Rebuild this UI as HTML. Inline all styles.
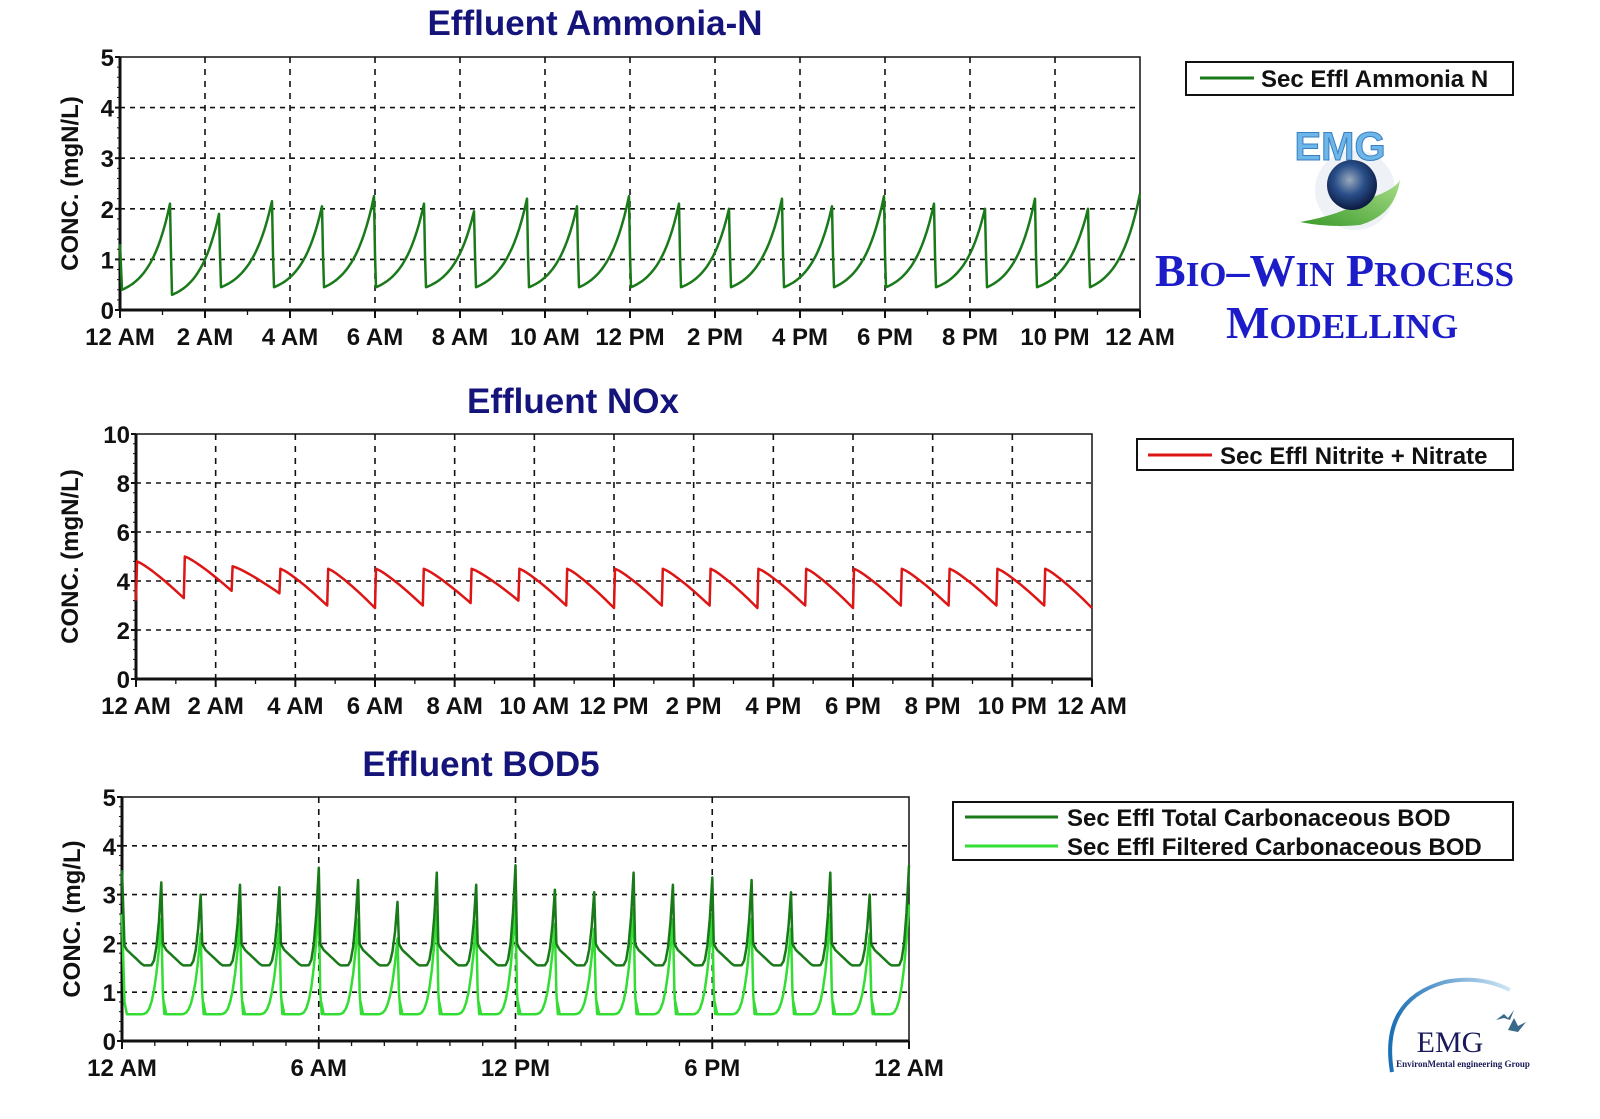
<!DOCTYPE html>
<html><head><meta charset="utf-8"><style>
html,body{margin:0;padding:0;background:#fff;}
svg{display:block;}
text{font-family:"Liberation Sans",Arial,sans-serif;}
.t{font-weight:bold;font-size:35px;fill:#14147a;text-anchor:middle;}
.ax{font-weight:bold;font-size:24px;fill:#111;}
.lg{font-weight:bold;font-size:24px;fill:#111;}
.bw{font-family:"Liberation Serif",serif;font-weight:bold;fill:#1c1cc8;}
</style></head><body>
<svg id="s" width="1600" height="1119" viewBox="0 0 1600 1119" xmlns="http://www.w3.org/2000/svg">
<defs>
<radialGradient id="gl" cx="0.45" cy="0.4" r="0.6"><stop offset="0" stop-color="#9ab"/><stop offset="0.5" stop-color="#2a4f8a"/><stop offset="1" stop-color="#0a1a40"/></radialGradient>
<linearGradient id="lf" x1="0" y1="1" x2="1" y2="0"><stop offset="0" stop-color="#3a9a2a"/><stop offset="1" stop-color="#a8dd88"/></linearGradient>
<linearGradient id="arc" x1="0" y1="0" x2="1" y2="0"><stop offset="0" stop-color="#1a6fb5"/><stop offset="1" stop-color="#cfe6f5"/></linearGradient>
</defs>
<text class="t" x="595" y="35">Effluent Ammonia-N</text>
<text class="t" x="573" y="413">Effluent NOx</text>
<text class="t" x="481" y="776">Effluent BOD5</text>
<g id="g"></g>
<rect x="1186" y="62" width="327" height="33" fill="#fff" stroke="#111" stroke-width="2"/>
<line x1="1200" y1="78" x2="1254" y2="78" stroke="#1a7a1a" stroke-width="3"/>
<text class="lg" x="1261" y="87">Sec Effl Ammonia N</text>
<rect x="1137" y="439" width="376" height="31" fill="#fff" stroke="#111" stroke-width="2"/>
<line x1="1148" y1="455" x2="1212" y2="455" stroke="#dd1515" stroke-width="3"/>
<text class="lg" x="1220" y="464">Sec Effl Nitrite + Nitrate</text>
<rect x="953" y="802" width="560" height="58" fill="#fff" stroke="#111" stroke-width="2"/>
<line x1="965" y1="817" x2="1058" y2="817" stroke="#1a7a1a" stroke-width="3"/>
<line x1="965" y1="846" x2="1058" y2="846" stroke="#33dd33" stroke-width="3"/>
<text class="lg" x="1067" y="826">Sec Effl Total Carbonaceous BOD</text>
<text class="lg" x="1067" y="855">Sec Effl Filtered Carbonaceous BOD</text>
<circle cx="1355" cy="190" r="40" fill="#eef2f6"/>
<text x="1340" y="160" text-anchor="middle" font-size="40" font-weight="bold" fill="#6cb6ea" stroke="#3a7fbf" stroke-width="1" style="font-family:'Liberation Sans',sans-serif">EMG</text>
<path d="M1300,222 Q1340,215 1365,200 Q1395,190 1400,180 Q1395,215 1360,225 Q1330,228 1300,222Z" fill="url(#lf)"/>
<circle cx="1352" cy="185" r="25" fill="url(#gl)"/>
<text class="bw" x="1155" y="286" font-size="46">B<tspan font-size="35">IO</tspan>–W<tspan font-size="35">IN</tspan>  P<tspan font-size="35">ROCESS</tspan></text>
<text class="bw" x="1226" y="338" font-size="46">M<tspan font-size="35">ODELLING</tspan></text>
<path d="M1392,1072 Q1380,1000 1445,982 Q1480,975 1510,990" fill="none" stroke="url(#arc)" stroke-width="4"/>
<text x="1450" y="1052" text-anchor="middle" font-size="30" fill="#1a1a5a" style="font-family:'Liberation Serif',serif">EMG</text>
<text x="1463" y="1067" text-anchor="middle" font-size="9" font-weight="bold" fill="#1a1a5a" style="font-family:'Liberation Serif',serif">EnvironMental engineering Group</text>
<path d="M1496,1020 l8,-6 l4,4 l6,-8 l-4,10 l-6,-2z M1508,1030 l6,-12 l4,8 l8,-4 l-8,10z" fill="#3a6a8a"/>
</svg>
<script>
var g=document.getElementById('g'),h='';
function chart(x0,x1,y0,y1,ymax,ystep,xl,vlines,ylab,ylx){
  var s='';
  for(var v=ystep;v<ymax;v+=ystep){var y=y1-(y1-y0)*v/ymax;s+='<line x1="'+x0+'" x2="'+x1+'" y1="'+y+'" y2="'+y+'" stroke="#111" stroke-width="1.6" stroke-dasharray="5,5"/>';}
  for(var i=1;i<vlines;i++){var x=x0+(x1-x0)*i/vlines;s+='<line x1="'+x+'" x2="'+x+'" y1="'+y0+'" y2="'+y1+'" stroke="#111" stroke-width="1.6" stroke-dasharray="6,6"/>';}
  s+='<rect x="'+x0+'" y="'+y0+'" width="'+(x1-x0)+'" height="'+(y1-y0)+'" fill="none" stroke="#111" stroke-width="1.5"/>';
  s+='<line x1="'+x0+'" y1="'+y0+'" x2="'+x0+'" y2="'+y1+'" stroke="#111" stroke-width="3"/><line x1="'+x0+'" y1="'+y1+'" x2="'+x1+'" y2="'+y1+'" stroke="#111" stroke-width="3"/>';
  for(var v=0;v<=ymax;v+=ystep){var y=y1-(y1-y0)*v/ymax;s+='<text class="ax" x="'+(x0-6)+'" y="'+(y+9)+'" text-anchor="end">'+v+'</text><line x1="'+(x0-5)+'" x2="'+x0+'" y1="'+y+'" y2="'+y+'" stroke="#111" stroke-width="2"/>';}
  for(var v=0;v<ymax;v+=ystep/5){var y=y1-(y1-y0)*v/ymax;s+='<line x1="'+(x0-3)+'" x2="'+x0+'" y1="'+y+'" y2="'+y+'" stroke="#111" stroke-width="1"/>';}
  for(var i=0;i<xl.length;i++){var x=x0+(x1-x0)*i/(xl.length-1);s+='<text class="ax" x="'+x+'" y="'+(y1+35)+'" text-anchor="middle">'+xl[i]+'</text><line x1="'+x+'" x2="'+x+'" y1="'+y1+'" y2="'+(y1+8)+'" stroke="#111" stroke-width="2"/>';}
  var nt=(xl.length-1)*(xl.length>6?2:6);
  for(var i=0;i<=nt;i++){var x=x0+(x1-x0)*i/nt;s+='<line x1="'+x+'" x2="'+x+'" y1="'+y1+'" y2="'+(y1+5)+'" stroke="#111" stroke-width="1.3"/>';}
  var cy=(y0+y1)/2;
  s+='<text class="ax" transform="translate('+ylx+','+cy+') rotate(-90)" text-anchor="middle" font-size="28">'+ylab+'</text>';
  return s;
}
function path(pts,col,w){return '<polyline fill="none" stroke="'+col+'" stroke-width="'+w+'" stroke-linejoin="round" points="'+pts.join(' ')+'"/>';}
var L1=['12 AM','2 AM','4 AM','6 AM','8 AM','10 AM','12 PM','2 PM','4 PM','6 PM','8 PM','10 PM','12 AM'];
h+=chart(120,1140,57,310,5,1,L1,12,'CONC. (mgN/L)',78);
(function(){var x0=120,x1=1140,y0=57,y1=310,sc=(y1-y0)/5;
var pk=[2.1,1.9,2.15,2.05,2.25,2.1,1.95,2.2,2.05,2.25,2.1,2.0,2.2,2.05,2.25,2.1,2.0,2.2,2.0,2.3];
var px=[170,219,272,322,374,424,474,527,577,629,679,729,782,832,884,934,985,1035,1088,1140];
var p=[x0+','+(y1-1.3*sc),(x0+2)+','+(y1-0.4*sc)],prev=x0+2,lo=0.4;
for(var i=0;i<px.length;i++){var a=prev,b=px[i];for(var k=0;k<=20;k++){var t=k/20,v=lo+(pk[i]-lo)*(Math.exp(2.4*t)-1)/(Math.exp(2.4)-1);p.push((a+(b-a)*t).toFixed(1)+','+(y1-v*sc).toFixed(1));}
 lo=(i==0)?0.3:0.45;if(i<px.length-1){p.push((b+1)+','+(y1-1.1*sc));p.push((b+2)+','+(y1-lo*sc));prev=b+2;}}
h+=path(p,'#1a7a1a',2.5);})();
h+=chart(136,1092,434,679,10,2,L1,12,'CONC. (mgN/L)',78);
(function(){var x0=136,x1=1092,y0=434,y1=679,sc=(y1-y0)/10,n=20,per=(x1-x0)/n;
var hi=[4.8,5.0,4.6,4.5,4.5,4.5,4.5,4.5,4.5,4.5,4.5,4.5,4.5,4.5,4.5,4.5,4.5,4.5,4.5,4.5];
var lo=[3.3,3.6,3.5,3.0,2.9,3.0,3.1,3.2,3.0,2.9,3.0,3.0,2.9,3.0,2.9,3.0,3.0,3.0,3.0,2.9];
var p=[x0+','+(y1-3.2*sc)];
for(var i=0;i<n;i++){var a=x0+i*per+1,b=x0+(i+1)*per;for(var k=0;k<=12;k++){var t=k/12,v=hi[i]-(hi[i]-lo[i])*Math.pow(t,1.2);p.push((a+(b-a)*t).toFixed(1)+','+(y1-v*sc).toFixed(1));}}
h+=path(p,'#dd1515',2.5);})();
h+=chart(122,909,797,1041,5,1,['12 AM','6 AM','12 PM','6 PM','12 AM'],4,'CONC. (mg/L)',80);
(function(){var x0=122,x1=909,y0=797,y1=1041,sc=(y1-y0)/5,n=20,per=(x1-x0)/n;
var pk=[3.25,3.0,3.2,3.15,3.55,3.3,2.85,3.45,3.2,3.6,3.1,3.05,3.45,3.2,3.35,3.3,3.05,3.45,3.0,3.6];
var pl=[2.5,2.2,2.5,2.4,2.8,2.5,2.1,2.7,2.45,2.8,2.4,2.3,2.7,2.5,2.6,2.5,2.3,2.6,2.2,2.8];
var d=['122,'+(y1-3.5*sc)],l=['122,'+(y1-2.6*sc)];
for(var i=0;i<n;i++){var a=x0+i*per,b=a+per;
 for(var k=1;k<=16;k++){var t=k/16,x=(a+per*t).toFixed(1),vd,vl;
  if(t<0.08){vd=1.95;vl=0.8;}
  else{var u=(t-0.08)/0.92;vd=1.9-0.35*Math.min(1,u/0.5)+ (u>0.7?Math.pow((u-0.7)/0.3,2.5)*(pk[i]-1.55):0);
   vl=0.55+(u>0.45?Math.pow((u-0.45)/0.55,3)*(pl[i]-0.55):0);}
  if(k==16){vd=pk[i];vl=pl[i];}
  d.push(x+','+(y1-vd*sc).toFixed(1));l.push(x+','+(y1-vl*sc).toFixed(1));}
 if(i<n-1){d.push((b+1.5)+','+(y1-2.0*sc));l.push((b+1.5)+','+(y1-1.0*sc));l.push((b+3)+','+(y1-0.55*sc));}}
h+=path(l,'#33dd33',2.5)+path(d,'#1a7a1a',2.5);})();
g.innerHTML=h;
</script>
</body></html>
